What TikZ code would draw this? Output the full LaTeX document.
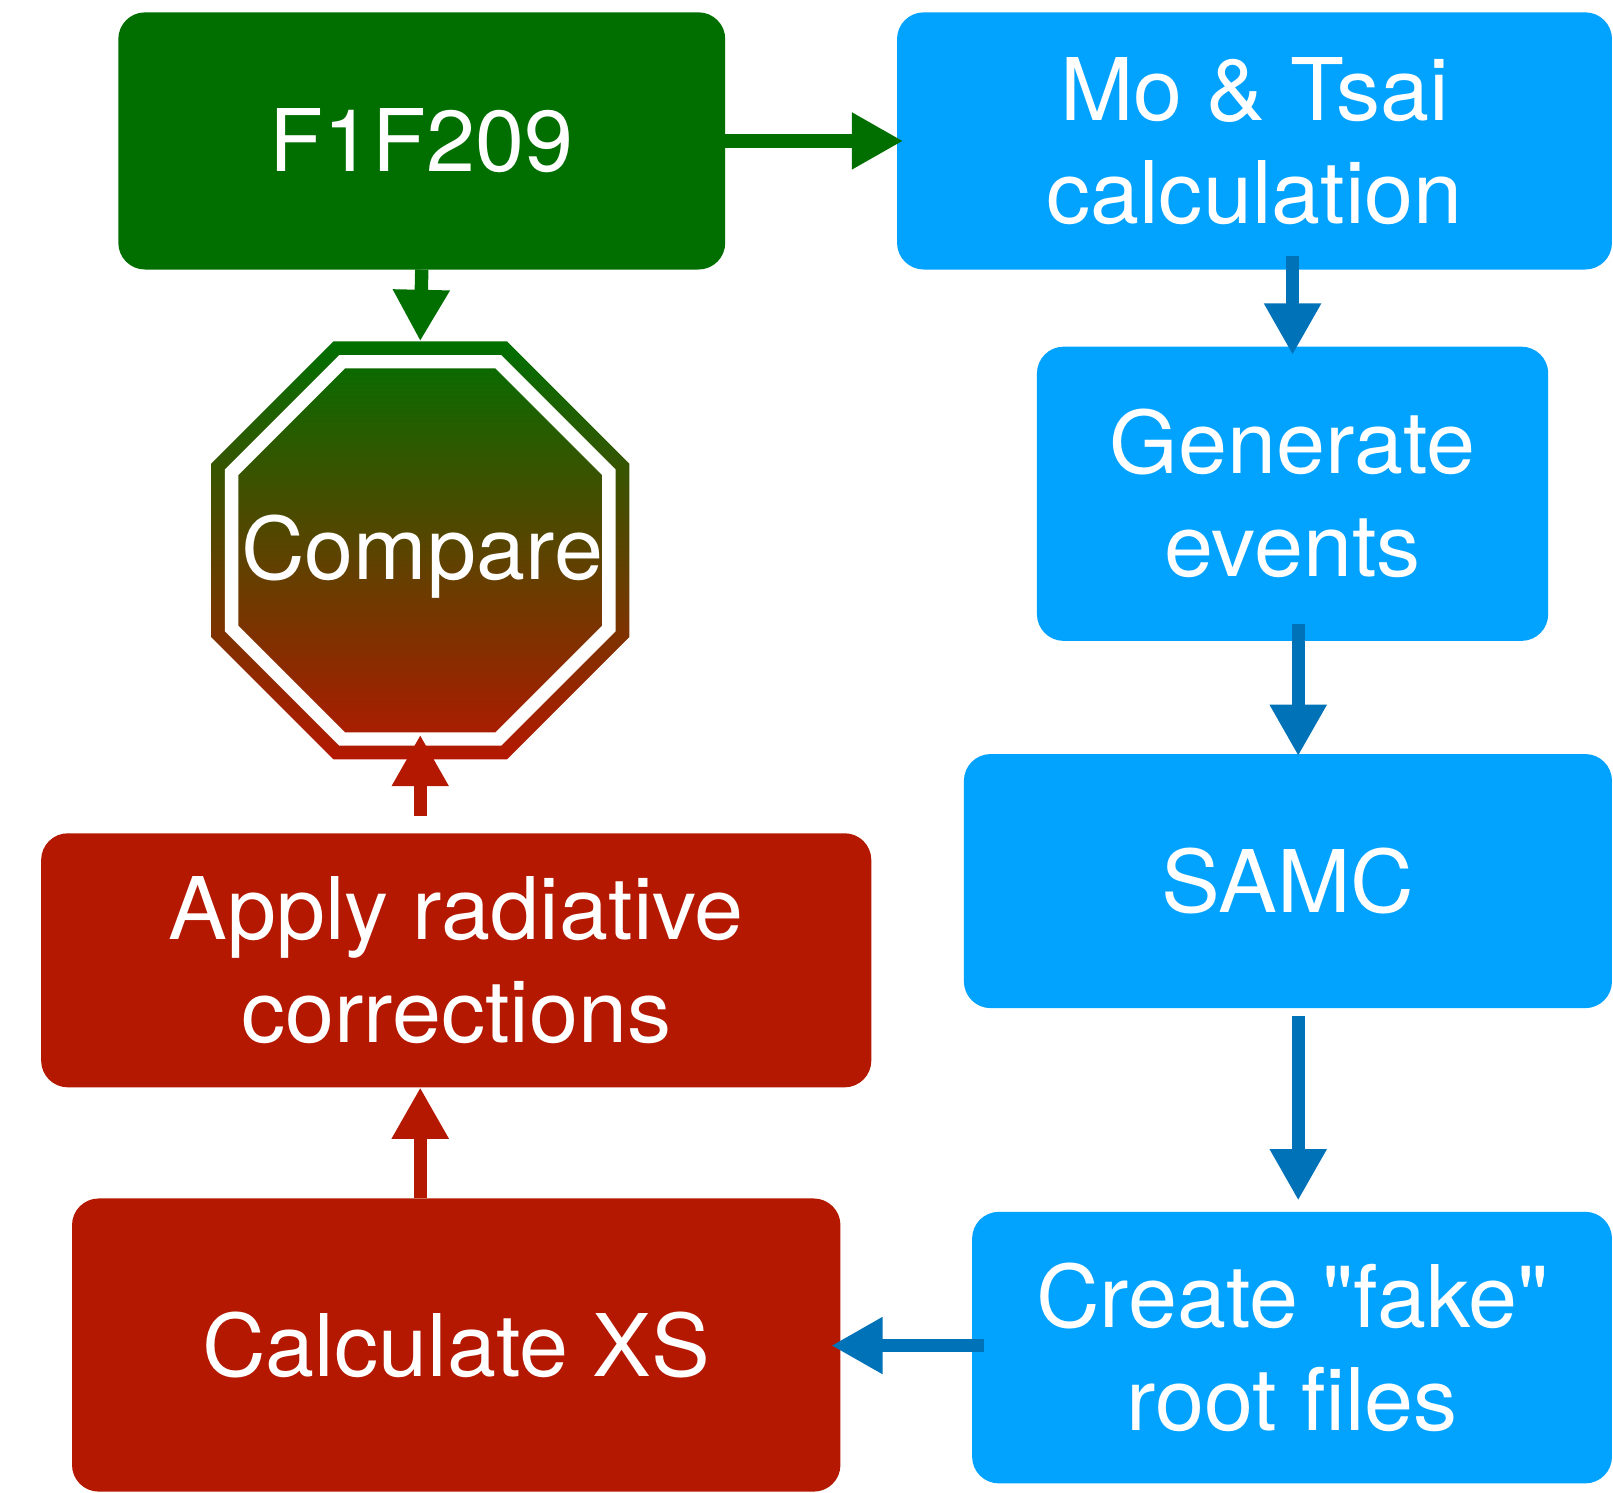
\documentclass[tikz,border=0pt]{standalone}
\usepackage{fontspec}
\setmainfont[FakeStretch=1.02]{TeX Gyre Heros}
\usetikzlibrary{arrows.meta,shapes.geometric,calc}
\definecolor{cgreen}{RGB}{0,111,0}
\definecolor{cblue}{RGB}{2,162,255}
\definecolor{cablue}{RGB}{0,114,184}
\definecolor{cred}{RGB}{180,24,0}
\newcommand\bigtxt{\fontsize{84}{100}\selectfont}
\begin{document}
\begin{tikzpicture}[x=1pt,y=-1pt,
  box/.style={rectangle, rounded corners=26pt, inner sep=0pt, outer sep=0pt,
    text=white, font=\bigtxt, align=center},
  greenbox/.style={box, fill=cgreen},
  bluebox/.style={box, fill=cblue},
  redbox/.style={box, fill=cred},
  conn/.style={line width=13pt, -{Triangle[length=50pt,width=52pt]}},
  gconn/.style={conn, draw=cgreen, fill=cgreen},
  bconn/.style={conn, draw=cablue, fill=cablue},
  rconn/.style={conn, draw=cred, fill=cred},
  octo/.style={regular polygon, regular polygon sides=8, inner sep=0pt, outer sep=0pt}
]
\useasboundingbox (0,0) rectangle (1568,1451);

% boxes
\node[greenbox, minimum width=590pt, minimum height=250pt] (f1) at (410,137) {F1F209};
\node[bluebox, minimum width=695pt, minimum height=250pt] (mo) at (1219.5,137) {Mo \& Tsai\\calculation};
\node[bluebox, minimum width=497pt, minimum height=286pt] (gen) at (1256.5,480) {Generate\\events};
\node[bluebox, minimum width=630pt, minimum height=247pt] (samc) at (1252,856.5) {SAMC};
\node[bluebox, minimum width=622pt, minimum height=264pt] (create) at (1256,1310) {Create \textquotedbl fake\textquotedbl\\root files};
\node[redbox, minimum width=807pt, minimum height=247pt] (apply) at (443.5,933.5) {Apply radiative\\corrections};
\node[redbox, minimum width=747pt, minimum height=285pt] (calc) at (443.5,1307.5) {Calculate XS};

% compare octagon
\node[octo, minimum size=440pt, top color=cgreen, bottom color=cred] (cmp) at (408.5,535) {};
\node[octo, minimum size=397pt, draw=white, line width=13pt] (cmpring) at (cmp.center) {};
\node[text=white, font=\bigtxt, inner sep=0pt] (cmptext) at ($(cmp.center)+(2,6)$) {Compare};

% connectors
\draw[gconn] (f1.east) -- ($(mo.west)+(6,0)$);
\draw[gconn] (f1.south) -- (cmp.north);
\draw[bconn] ($(mo.south -| gen.north)+(0,-13)$) -- ($(gen.north)+(0,8)$);
\draw[bconn] ($(gen.south)+(5.5,-16)$) -- ($(samc.north)+(10,2)$);
\draw[bconn] ($(samc.south)+(10,8)$) -- ($(create.north)+(6,-11)$);
\draw[bconn] ($(create.west)+(12,-2)$) -- ($(calc.east)+(-9,0.5)$);
\draw[rconn] (calc.north -| cmp.south) -- (apply.south -| cmp.south);
\draw[rconn] ($(apply.north -| cmp.south)+(0,-17)$) -- ($(cmp.south)+(0,-24)$);
\end{tikzpicture}
\end{document}
